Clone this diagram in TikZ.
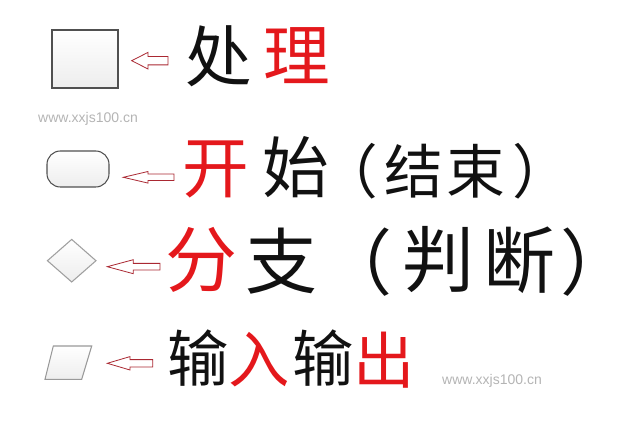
\documentclass[tikz,border=0pt]{standalone}
\usepackage{fontspec}
\usepackage{tikz}
\usetikzlibrary{shapes.geometric}
\newfontfamily\cjk{Noto Sans CJK SC}
\newfontfamily\markfont{Liberation Sans}
\definecolor{brushred}{RGB}{228,24,28}
\definecolor{inkblack}{RGB}{17,17,17}
\definecolor{arrowred}{RGB}{170,40,50}
\definecolor{boxline}{RGB}{80,80,80}
\definecolor{markgray}{RGB}{180,180,180}
\tikzset{
  flowshape/.style={draw=boxline, line width=0.8pt, top color=white, bottom color=gray!14, inner sep=0pt},
  hanzi/.style={inner sep=0pt, text=inkblack, font=\cjk\fontsize{#1}{#1}\selectfont},
  redzi/.style={hanzi=#1, text=brushred},
  arrowline/.style={draw=arrowred, line width=0.6pt, line join=miter, fill=white},
  watermark/.style={inner sep=0pt, text=markgray, font=\markfont\fontsize{10.5pt}{10.5pt}\selectfont},
  pics/backarrow/.style args={#1/#2/#3/#4}{code={
    \draw[arrowline] (0,0) -- (#2,-#3) -- (#2,-#4) -- (#1,-#4) -- (#1,#4) -- (#2,#4) -- (#2,#3) -- cycle;
  }}
}
\begin{document}
\begin{tikzpicture}[x=0.75pt,y=0.75pt,yscale=-1,xscale=1]
\useasboundingbox (0,0) rectangle (620,423);
%Process box
\node[flowshape, minimum width=49.5pt, minimum height=43.5pt] (procbox) at (85,59) {};
\pic at (131.7,60.7) {backarrow=36.3/16.3/8.3/4.2};
\node[hanzi=50pt] (chu) at (219,56) {处};
\node[redzi=50pt] (li) at (296.5,56) {理};
% Watermark
\node[watermark] (markA) at (88,119) {www.xxjs100.cn};
%Terminal box
\node[flowshape, rounded corners=10pt, minimum width=46.5pt, minimum height=27pt] (termbox) at (78,169) {};
\pic at (123.3,177.3) {backarrow=50.7/24.7/5.8/3.2};
\node[redzi=50pt] (kai) at (216,169) {开};
\node[hanzi=50pt] (shi) at (296,167) {始};
\node[hanzi=44pt] (lparenA) at (349,171) {（};
\node[hanzi=44pt] (jie) at (414,171) {结};
\node[hanzi=44pt] (shu) at (476,171) {束};
\node[hanzi=44pt] (rparenA) at (542,171) {）};
%Decision box
\node[flowshape, draw=gray!75, diamond, minimum width=36.75pt, minimum height=32.25pt] (decbox) at (71.7,260.7) {};
\pic at (107.3,266.7) {backarrow=52.7/26/7/3.3};
\node[redzi=54pt] (fen) at (201,260) {分};
\node[hanzi=54pt] (zhi) at (281,261) {支};
\node[hanzi=54pt] (lparenB) at (356,262) {（};
\node[hanzi=54pt] (pan) at (438,260) {判};
\node[hanzi=54pt] (duan) at (519,260) {断};
\node[hanzi=54pt, anchor=west] (rparenB) at (560,262) {\makebox[0.45em][l]{）}};
%Input-output box
\draw[flowshape, draw=gray!80] (53.3,346) -- (91.7,346) -- (81.7,379.3) -- (45,379.3) -- cycle;
\pic at (107.3,363.3) {backarrow=45.4/22.7/6.7/3.7};
\node[hanzi=46pt] (shuA) at (198,358) {输};
\node[redzi=46pt] (ru) at (259,360) {入};
\node[hanzi=46pt] (shuB) at (323,358) {输};
\node[redzi=46pt] (chuB) at (384,360) {出};
% Watermark
\node[watermark] (markB) at (492,381) {www.xxjs100.cn};
\end{tikzpicture}
\end{document}
